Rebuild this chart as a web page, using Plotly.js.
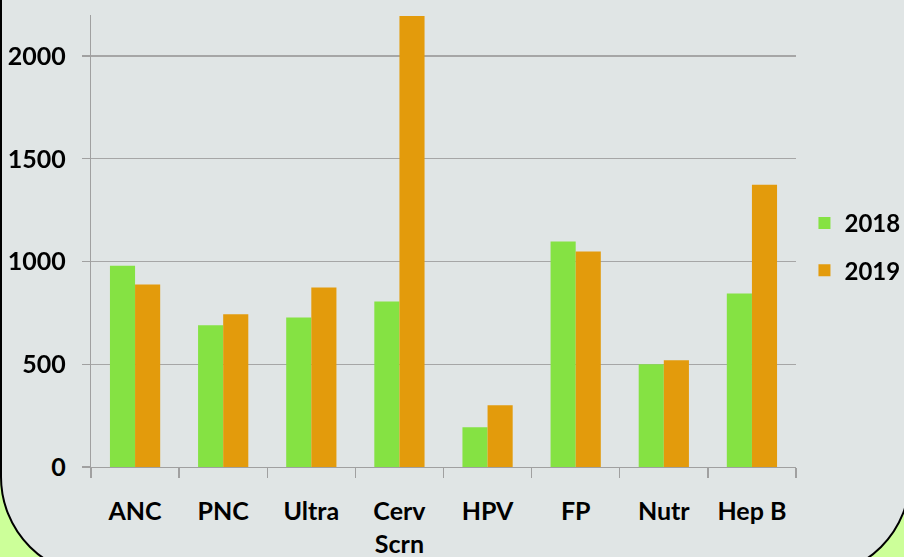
<!DOCTYPE html>
<html>
<head>
<meta charset="utf-8">
<script src="https://cdn.plot.ly/plotly-3.0.1.min.js"></script>
<style>
html,body{margin:0;padding:0;width:904px;height:557px;overflow:hidden;background:#ccff99;}
#panel{position:absolute;left:0;top:-200px;width:911px;height:777px;box-sizing:border-box;border:2px solid #000;border-radius:100px;background:#e0e5e5;}
#chart{position:absolute;left:0;top:0;width:904px;height:557px;}
</style>
</head>
<body>
<div id="panel"></div>
<div id="chart"></div>
<script>
const categories = ["ANC", "PNC", "Ultra", "Cerv<br>Scrn", "HPV", "FP", "Nutr", "Hep B"];
const values2018 = [980, 690, 728, 806, 194, 1097, 500, 845];
const values2019 = [888, 743, 874, 2195, 301, 1049, 519, 1374];
const yTicks = [0, 500, 1000, 1500, 2000];

const traces = [
  {type: "bar", name: "2018", x: categories, y: values2018, legendgroup: "a",
   marker: {color: "#85e243", line: {width: 0}}},
  {type: "bar", name: "2019", x: categories, y: values2019, legendgroup: "b",
   marker: {color: "#e39b0c", line: {width: 0}}}
];

const layout = {
  width: 904, height: 557,
  paper_bgcolor: "rgba(0,0,0,0)", plot_bgcolor: "rgba(0,0,0,0)",
  margin: {l: 91, r: 108, t: 15, b: 90, autoexpand: false},
  font: {family: "Lato, 'Open Sans', sans-serif", size: 25, color: "#000"},
  barmode: "group", bargap: 0.43, bargroupgap: 0,
  showlegend: true,
  legend: {x: 1.012, xanchor: "left", y: 0.487, yanchor: "middle", tracegroupgap: 13,
           bgcolor: "rgba(0,0,0,0)", font: {size: 24, weight: "bold", color: "#000"}},
  xaxis: {type: "category", tickson: "boundaries", ticks: "outside", ticklen: 10, tickwidth: 1.3,
          tickcolor: "#a0a0a0", showline: true, linecolor: "#a0a0a0", linewidth: 1.3,
          showgrid: false, ticklabelstandoff: 22,
          tickfont: {size: 25, weight: "bold", color: "#000"}},
  yaxis: {range: [0, 2200], tickvals: yTicks, ticktext: yTicks.map(String),
          ticks: "outside", ticklen: 8, tickwidth: 1.3, tickcolor: "#a0a0a0",
          showline: true, linecolor: "#a0a0a0", linewidth: 1.3,
          showgrid: true, gridcolor: "#a6a6a6", gridwidth: 1.3, zeroline: false,
          ticklabelstandoff: 11,
          tickfont: {size: 25, weight: "bold", color: "#000"}}
};

Plotly.newPlot("chart", traces, layout, {displayModeBar: false, staticPlot: true});
</script>
</body>
</html>
